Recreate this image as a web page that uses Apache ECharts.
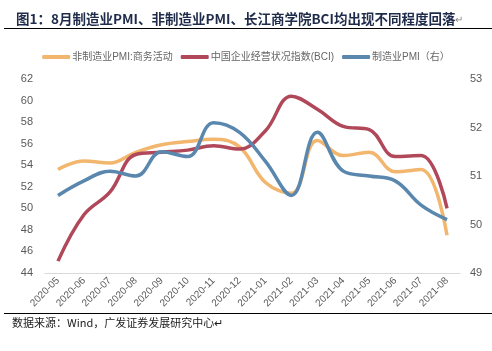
<!DOCTYPE html>
<html lang="zh">
  <head>
    <meta charset="UTF-8" />
    <title>8月制造业PMI、非制造业PMI、BCI</title>
    <script src="https://cdn.jsdelivr.net/npm/echarts@6.0.0/dist/echarts.min.js"></script>
    <style>
      body { margin: 0; background: #ffffff; }
      #chart { width: 492px; height: 351px; }
    </style>
  </head>
  <body>
    <div id="chart"></div>
    <script>
      const chart = echarts.init(document.getElementById("chart"));

      var months = [
        "2020-05", "2020-06", "2020-07", "2020-08", "2020-09", "2020-10",
        "2020-11", "2020-12", "2021-01", "2021-02", "2021-03", "2021-04",
        "2021-05", "2021-06", "2021-07", "2021-08"
      ];
      // left axis
      var nonMfgPmi = [53.6, 54.4, 54.2, 55.2, 55.9, 56.2, 56.4, 55.7, 52.4, 51.4, 56.3, 54.9, 55.2, 53.4, 53.6, 47.5];
      var bci = [45.1, 49.4, 51.5, 55.0, 55.2, 55.4, 55.8, 55.5, 57.2, 60.4, 59.2, 57.6, 57.3, 54.8, 54.9, 50.0];
      // right axis
      var mfgPmi = [50.6, 50.9, 51.1, 51.0, 51.5, 51.4, 52.1, 51.9, 51.3, 50.6, 51.9, 51.1, 51.0, 50.9, 50.4, 50.1];

      var names = ["非制造业PMI:商务活动", "中国企业经营状况指数(BCI)", "制造业PMI（右）"];
      var colors = ["#F2B66E", "#B0485A", "#5A87AE"];

      var labelColor = "#595959";

      const options = {
        animation: false,
        textStyle: { fontFamily: "Liberation Sans, Noto Sans CJK SC, sans-serif" },
        title: {
          text: "图1：8月制造业PMI、非制造业PMI、长江商学院BCI均出现不同程度回落{m|↵}",
          left: 11,
          top: 7,
          textStyle: {
            fontSize: 13.5,
            fontWeight: "bold",
            color: "#1F2B4A",
            fontFamily: "Noto Sans CJK SC, sans-serif",
            rich: { m: { fontSize: 10, color: "#888888", fontWeight: "normal" } }
          }
        },
        graphic: [
          {
            type: "line",
            shape: { x1: 4, y1: 28.5, x2: 492, y2: 28.5 },
            style: { stroke: "#000000", lineWidth: 1 }
          },
          {
            type: "line",
            shape: { x1: 4, y1: 313.5, x2: 492, y2: 313.5 },
            style: { stroke: "#000000", lineWidth: 1 }
          },
          {
            type: "text",
            left: 12,
            top: 317,
            style: {
              text: "数据来源：Wind，广发证券发展研究中心↵",
              fontSize: 11,
              fill: "#1a1a1a",
              fontFamily: "Noto Sans CJK SC, sans-serif"
            }
          }
        ],
        legend: {
          top: 47,
          left: "center",
          itemWidth: 28,
          itemHeight: 4,
          itemGap: 8,
          icon: "roundRect",
          textStyle: { fontSize: 10, color: "#666666", padding: [0, 0, 0, -3] },
          data: names
        },
        grid: { left: 45, right: 32, top: 79, bottom: 78 },
        xAxis: {
          type: "category",
          data: months,
          boundaryGap: true,
          axisLine: { lineStyle: { color: "#D9D9D9" } },
          axisTick: { show: false },
          axisLabel: { rotate: 45, fontSize: 10, color: labelColor, interval: 0, margin: 6 }
        },
        yAxis: [
          {
            type: "value",
            min: 44,
            max: 62,
            interval: 2,
            splitLine: { show: false },
            axisLine: { show: false },
            axisTick: { show: false },
            axisLabel: { fontSize: 11, color: labelColor, margin: 12 }
          },
          {
            type: "value",
            min: 49,
            max: 53,
            interval: 1,
            splitLine: { show: false },
            axisLine: { show: false },
            axisTick: { show: false },
            axisLabel: { fontSize: 11, color: labelColor, margin: 10 }
          }
        ],
        series: [
          {
            name: names[0],
            type: "line",
            smooth: 0.4,
            symbol: "none",
            yAxisIndex: 0,
            data: nonMfgPmi,
            itemStyle: { color: colors[0] },
            lineStyle: { width: 3.5, color: colors[0] }
          },
          {
            name: names[1],
            type: "line",
            smooth: 0.4,
            symbol: "none",
            yAxisIndex: 0,
            data: bci,
            itemStyle: { color: colors[1] },
            lineStyle: { width: 3.5, color: colors[1] }
          },
          {
            name: names[2],
            type: "line",
            smooth: 0.4,
            symbol: "none",
            yAxisIndex: 1,
            data: mfgPmi,
            itemStyle: { color: colors[2] },
            lineStyle: { width: 3.5, color: colors[2] }
          }
        ]
      };

      chart.setOption(options);
    </script>
  </body>
</html>
